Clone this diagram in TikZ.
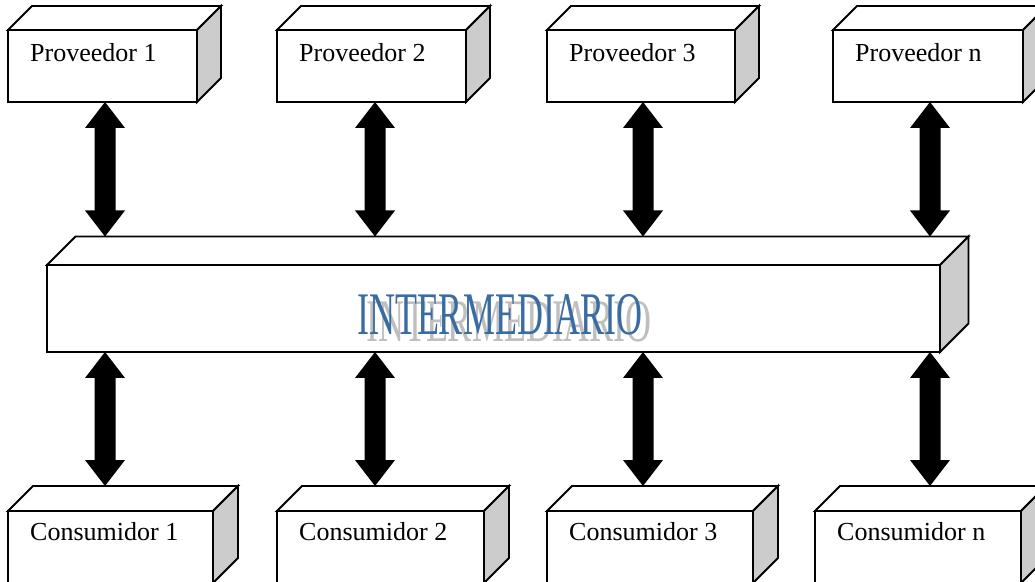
\documentclass[tikz,border=0pt]{standalone}
\usepackage{fontspec}
\setmainfont{Liberation Serif}
\usetikzlibrary{calc}
\definecolor{interblue}{HTML}{3A6CA4}
\definecolor{shadowgray}{HTML}{BFBFBF}
\definecolor{sidegray}{HTML}{CCCCCC}
\tikzset{
  front/.style={draw, line width=1.9pt, fill=white, minimum width=#1, minimum height=72pt,
    inner sep=0pt, outer sep=0pt, anchor=north west},
  boxtext/.style={font=\fontsize{26}{30}\selectfont, anchor=base west, inner sep=0pt},
  darrow/.style={to path={
    -- ++(20,-26) -- ++(-9.5,0) -- ($(\tikztotarget)+(10.5,26)$) -- ++(9.5,0)
    -- (\tikztotarget) -- ++(-20,26) -- ++(9.5,0) -- ($(\tikztostart)+(-10.5,-26)$)
    -- ++(-9.5,0) -- cycle}},
  bigtext/.style={anchor=base, inner sep=0pt},
}
\newcommand\depthfaces[2]{%
  \draw[line width=1.9pt, line join=miter, fill=white] (#1.north west) -- ++(#2,#2)
    -- ($(#1.north east)+(#2,#2)$) -- (#1.north east) -- cycle;
  \draw[line width=1.9pt, line join=miter, fill=sidegray] (#1.north east) -- ++(#2,#2)
    -- ($(#1.south east)+(#2,#2)$) -- (#1.south east) -- cycle;
}
\begin{document}
\begin{tikzpicture}[x=1pt,y=1pt]
\clip (0,0) rectangle (1035,581);
\fill[white] (0,0) rectangle (1035,581);

% providers
\node[front=189pt] (p1) at (8,551) {};
\node[front=189pt] (p2) at (277,551) {};
\node[front=188pt] (p3) at (547,551) {};
\node[front=190pt] (pn) at (833,551) {};
\foreach \n in {p1,p2,p3,pn} {\depthfaces{\n}{24}}
\node[boxtext] (p1t) at ($(p1.north west)+(22,-32)$) {Proveedor 1};
\node[boxtext] (p2t) at ($(p2.north west)+(22,-32)$) {Proveedor 2};
\node[boxtext] (p3t) at ($(p3.north west)+(22,-32)$) {Proveedor 3};
\node[boxtext] (pnt) at ($(pn.north west)+(22,-32)$) {Proveedor n};

% intermediary
\node[front=893pt, minimum height=87pt] (m) at (47,316) {};
\depthfaces{m}{28.5}
\node[bigtext, text=shadowgray] (mshadow) at (509,239)
  {\scalebox{1}[1.68]{\fontsize{36}{40}\selectfont INTERMEDIARIO}};
\node[bigtext, text=interblue] (mtext) at (500,246)
  {\scalebox{1}[1.68]{\fontsize{36}{40}\selectfont INTERMEDIARIO}};

% consumers
\node[front=205pt] (c1) at (8,70) {};
\node[front=207pt] (c2) at (277,70) {};
\node[front=206pt] (c3) at (547,70) {};
\node[front=206pt] (cn) at (815,70) {};
\foreach \n in {c1,c2,c3,cn} {\depthfaces{\n}{25}}
\node[boxtext] (c1t) at ($(c1.north west)+(22,-29)$) {Consumidor 1};
\node[boxtext] (c2t) at ($(c2.north west)+(22,-29)$) {Consumidor 2};
\node[boxtext] (c3t) at ($(c3.north west)+(22,-29)$) {Consumidor 3};
\node[boxtext] (cnt) at ($(cn.north west)+(22,-29)$) {Consumidor n};

% arrow end points
\coordinate (mtop) at ($(m.north)+(0,28.5)$);
\coordinate (ctop) at ($(c1.north)+(0,25)$);
\coordinate (a1t) at ($(p1.south west)+(97,0)$);
\coordinate (a2t) at ($(p2.south west)+(98,0)$);
\coordinate (a3t) at ($(p3.south west)+(96,0)$);
\coordinate (ant) at ($(pn.south west)+(97,0)$);
\foreach \a in {a1,a2,a3,an} {
  \coordinate (\a b) at (\a t |- mtop);
  \coordinate (\a u) at (\a t |- m.south);
  \coordinate (\a d) at (\a t |- ctop);
  \fill[black] (\a t) to[darrow] (\a b);
  \fill[black] (\a u) to[darrow] (\a d);
}
\end{tikzpicture}
\end{document}
